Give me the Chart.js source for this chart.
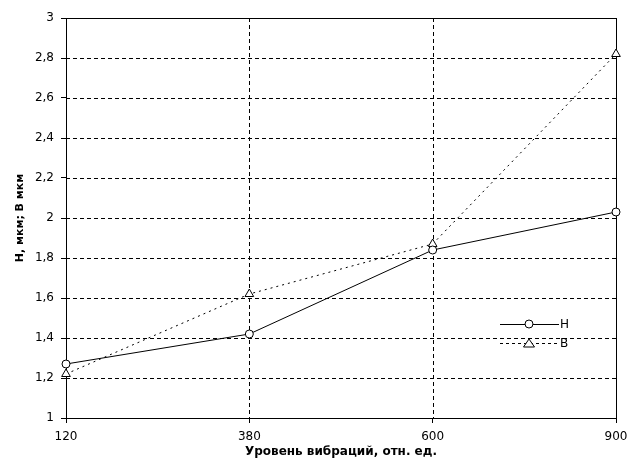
<!DOCTYPE html>
<html><head><meta charset="utf-8">
<script src="https://cdn.jsdelivr.net/npm/chart.js@4/dist/chart.umd.min.js"></script>
<style>html,body{margin:0;padding:0;background:#fff}#w{width:629px;height:464px;position:relative}</style>
</head><body><div id="w"><canvas id="c" width="629" height="464"></canvas></div>
<script>
const categories = ['120', '380', '600', '900'];
const seriesH = [1.27, 1.42, 1.84, 2.03];
const seriesB = [1.22, 1.62, 1.87, 2.82];
const seriesNames = ['Н', 'В'];
const yTitle = 'Н, мкм; В мкм';
const xTitle = 'Уровень вибраций, отн. ед.';

const FONT = '"DejaVu Sans", Verdana, sans-serif';

const legendPlugin = {
  id: 'inLegend',
  afterDraw(chart) {
    const ctx = chart.ctx;
    const items = [{y: 324, ds: chart.data.datasets[0]}, {y: 343, ds: chart.data.datasets[1]}];
    ctx.save();
    items.forEach(it => {
      const ds = it.ds;
      ctx.strokeStyle = '#000';
      ctx.lineWidth = 1;
      ctx.setLineDash(ds.pointStyle === 'triangle' ? [3, 3] : []);
      ctx.beginPath(); ctx.moveTo(500, it.y + 0.5); ctx.lineTo(559, it.y + 0.5); ctx.stroke();
      ctx.setLineDash([]);
      ctx.fillStyle = '#fff';
      ctx.beginPath();
      if (ds.pointStyle === 'triangle') {
        ctx.moveTo(529, it.y - 4); ctx.lineTo(534.5, it.y + 4); ctx.lineTo(523.5, it.y + 4); ctx.closePath();
      } else {
        ctx.arc(529, it.y, 4, 0, Math.PI * 2);
      }
      ctx.fill(); ctx.stroke();
      ctx.fillStyle = '#000';
      ctx.font = '12px ' + FONT;
      ctx.textBaseline = 'middle';
      ctx.textAlign = 'left';
      ctx.fillText(ds.label, 560, it.y + 1);
    });
    ctx.restore();
  }
};

new Chart(document.getElementById('c'), {
  type: 'line',
  data: {
    labels: categories,
    datasets: [
      {label: seriesNames[0], data: seriesH, borderColor: '#000', borderWidth: 1, backgroundColor: '#fff',
       pointStyle: 'circle', pointRadius: 4, pointBorderColor: '#000', pointBackgroundColor: '#fff', pointBorderWidth: 1, tension: 0},
      {label: seriesNames[1], data: seriesB, borderColor: '#000', borderWidth: 1, borderDash: [2, 4], backgroundColor: '#fff',
       pointStyle: 'triangle', pointRadius: 5, pointBorderColor: '#000', pointBackgroundColor: '#fff', pointBorderWidth: 1, tension: 0}
    ]
  },
  options: {
    responsive: false,
    animation: false,
    layout: {padding: {left: 0, right: 13, top: 18, bottom: 0}},
    plugins: {legend: {display: false}, tooltip: {enabled: false}},
    scales: {
      x: {
        type: 'category',
        offset: false,
        grid: {color: '#000', lineWidth: 1, drawTicks: true, tickLength: 5, tickColor: '#000'},
        border: {display: true, color: '#000', width: 1},
        ticks: {color: '#000', font: {family: FONT, size: 12}, padding: 7, maxRotation: 0, autoSkip: false},
        title: {display: true, text: xTitle, color: '#000', font: {family: FONT, size: 12, weight: 'bold'}, padding: {top: 0, bottom: 5}},
        afterFit(s) { s.height = 46; s.paddingRight = 0; s.paddingLeft = 0; }
      },
      y: {
        min: 1, max: 3,
        grid: {color: '#000', lineWidth: 1, tickLength: 5, tickColor: '#000'},
        border: {display: true, color: '#000', width: 1},
        ticks: {stepSize: 0.2, color: '#000', font: {family: FONT, size: 12}, padding: 7,
          callback: v => String(Math.round(v * 10) / 10).replace('.', ',')},
        title: {display: true, text: yTitle, color: '#000', font: {family: FONT, size: 11, weight: 'bold'}, padding: {top: 14, bottom: 4}},
        afterFit(s) { s.width = 66; }
      }
    }
  },
  plugins: [legendPlugin, {
    id: 'frame',
    beforeDatasetsDraw(chart) {
      const {ctx, chartArea: a, scales} = chart;
      ctx.save();
      ctx.fillStyle = '#fff';
      ctx.fillRect(a.left + 1, a.top + 1, a.right - a.left - 1, a.bottom - a.top - 1);
      ctx.strokeStyle = '#000'; ctx.lineWidth = 1; ctx.setLineDash([4, 3]);
      scales.y.ticks.forEach(t => {
        if (t.value <= 1 || t.value >= 3) return;
        const y = Math.round(scales.y.getPixelForValue(t.value)) + 0.5;
        ctx.beginPath(); ctx.moveTo(a.left, y); ctx.lineTo(a.right, y); ctx.stroke();
      });
      categories.forEach((c, i) => {
        if (i === 0 || i === categories.length - 1) return;
        const x = Math.round(scales.x.getPixelForValue(i)) + 0.5;
        ctx.beginPath(); ctx.moveTo(x, a.top); ctx.lineTo(x, a.bottom); ctx.stroke();
      });
      ctx.setLineDash([]);
      ctx.strokeRect(Math.round(a.left) + 0.5, Math.round(a.top) + 0.5, Math.round(a.right - a.left), Math.round(a.bottom - a.top));
      ctx.restore();
    }
  }]
});
</script></body></html>
